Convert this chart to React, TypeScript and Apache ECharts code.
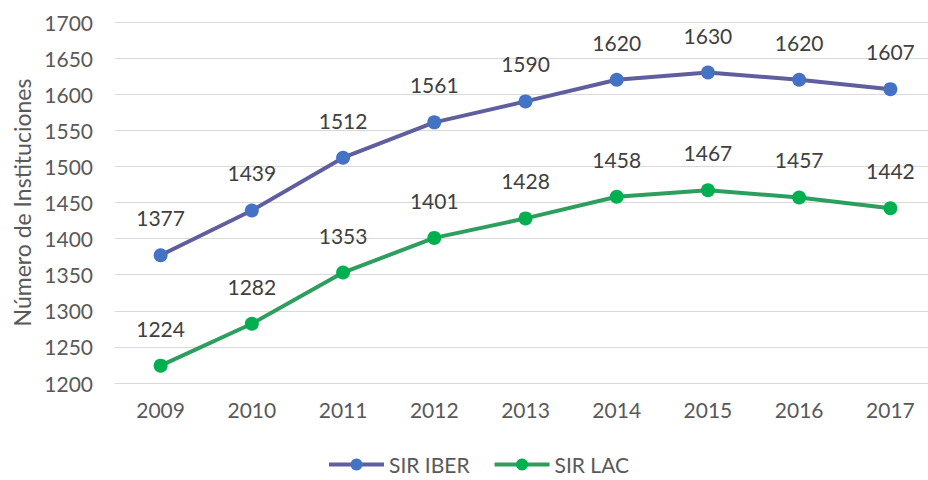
import React, { useEffect, useRef } from "react";
import * as echarts from "echarts";

const years = ["2009", "2010", "2011", "2012", "2013", "2014", "2015", "2016", "2017"];
const sirIber = [1377, 1439, 1512, 1561, 1590, 1620, 1630, 1620, 1607];
const sirLac = [1224, 1282, 1353, 1401, 1428, 1458, 1467, 1457, 1442];

const FONT = "Lato, 'Open Sans', sans-serif";
const TXT = "#595959";

export default function App() {
  const ref = useRef<HTMLDivElement>(null);
  useEffect(() => {
    if (!ref.current) return;
    const chart = echarts.init(ref.current, null, { renderer: "svg" });
    const label = {
      show: true,
      position: "top" as const,
      distance: 20,
      color: "#404040",
      fontSize: 21,
      fontFamily: FONT,
    };
    chart.setOption({
      animation: false,
      textStyle: { fontFamily: FONT },
      grid: { left: 115, right: 1, top: 22, bottom: 97 },
      legend: {
        bottom: 0,
        left: 322,
        itemWidth: 55,
        itemHeight: 15,
        itemGap: 23,
        lineStyle: { width: 4 },
        textStyle: { color: TXT, fontSize: 21, fontFamily: FONT },
        data: ["SIR IBER", "SIR LAC"],
      },
      xAxis: {
        type: "category",
        data: years,
        boundaryGap: true,
        axisLine: { lineStyle: { color: "#d9d9d9" } },
        axisTick: { show: false },
        axisLabel: { color: TXT, fontSize: 21, fontFamily: FONT, margin: 16 },
      },
      yAxis: {
        type: "value",
        min: 1200,
        max: 1700,
        interval: 50,
        name: "Número de Instituciones",
        nameLocation: "middle",
        nameGap: 80,
        nameTextStyle: { color: TXT, fontSize: 23, fontFamily: FONT },
        axisLine: { show: false },
        axisTick: { show: false },
        axisLabel: {
          color: TXT,
          fontSize: 21,
          fontFamily: FONT,
          margin: 22,
          formatter: (v: number) => String(v),
        },
        splitLine: { lineStyle: { color: "#d9d9d9" } },
      },
      series: [
        {
          name: "SIR IBER",
          type: "line",
          data: sirIber,
          symbol: "circle",
          symbolSize: 14,
          lineStyle: { color: "#5f5e9e", width: 4 },
          itemStyle: { color: "#4472c4" },
          label,
        },
        {
          name: "SIR LAC",
          type: "line",
          data: sirLac,
          symbol: "circle",
          symbolSize: 14,
          lineStyle: { color: "#2e9e5e", width: 4 },
          itemStyle: { color: "#00b050" },
          label,
        },
      ],
    });
    return () => chart.dispose();
  }, []);
  return (
    <div
      ref={ref}
      style={{ position: "absolute", left: 0, top: 0, width: 937, height: 480 }}
    />
  );
}
